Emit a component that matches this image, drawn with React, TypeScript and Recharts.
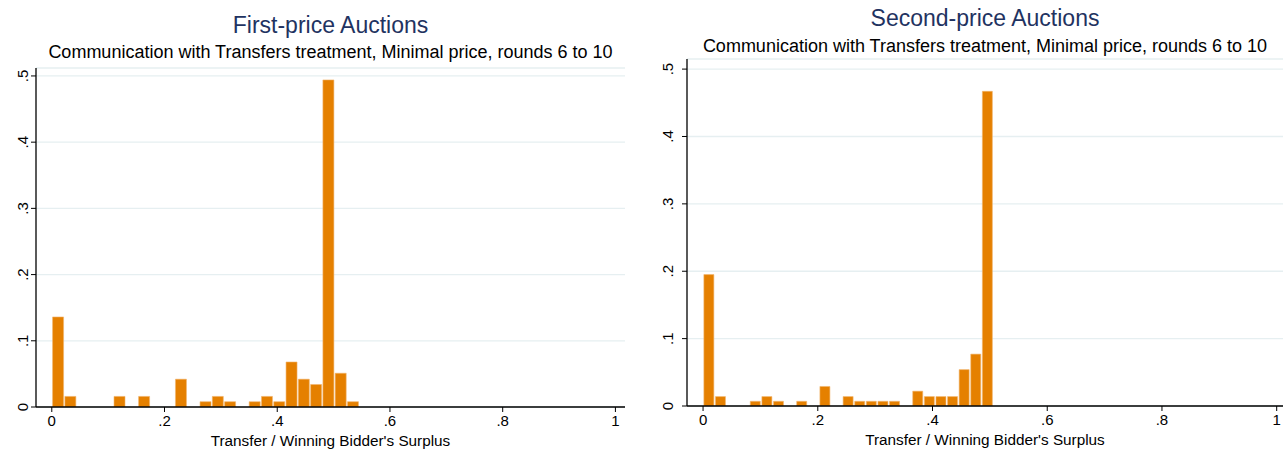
import React from 'react';
import { BarChart, Bar, XAxis, YAxis, CartesianGrid } from 'recharts';

// share of auctions per bin (25 equal bins starting at 0)
const FIRST_PRICE_SHARE = [
  0.136, 0.016, 0, 0, 0, 0.016, 0, 0.016, 0, 0, 0.042, 0, 0.008, 0.016, 0.008, 0, 0.008, 0.016,
  0.008, 0.068, 0.042, 0.034, 0.494, 0.051, 0.008,
];
const SECOND_PRICE_SHARE = [
  0.195, 0.014, 0, 0, 0.007, 0.014, 0.007, 0, 0.007, 0, 0.029, 0, 0.014, 0.007, 0.007, 0.007, 0.007,
  0, 0.022, 0.014, 0.014, 0.014, 0.054, 0.077, 0.467,
];
const FIRST_PRICE_BIN_WIDTH = 0.0218;
const SECOND_PRICE_BIN_WIDTH = 0.02023;

const X_TICKS = [0, 0.2, 0.4, 0.6, 0.8, 1];
const Y_TICKS = [0, 0.1, 0.2, 0.3, 0.4, 0.5];

const SUBTITLE = 'Communication with Transfers treatment, Minimal price, rounds 6 to 10';
const X_TITLE = "Transfer / Winning Bidder's Surplus";

const FONT = '"Liberation Sans", Arial, Helvetica, sans-serif';
const BAR_COLOR = '#e58000';
const TITLE_COLOR = '#1f3361';
const GRID_COLOR = '#e6eff1';

// Stata style labels: .2 instead of 0.2
const stataNum = (v: number) => (v === 0 || v === 1 ? String(v) : String(v).replace(/^0/, ''));

const toBins = (shares: number[], width: number) =>
  shares.map((share, i) => ({ x: (i + 0.5) * width, share: share || null }));

const RotatedTick = (props: any) => {
  const { y, payload, baseX } = props;
  return (
    <text
      x={baseX}
      y={y}
      transform={`rotate(-90 ${baseX} ${y})`}
      textAnchor="middle"
      fontSize={15}
      fontFamily={FONT}
      fill="#000"
    >
      {stataNum(payload.value)}
    </text>
  );
};

interface PanelProps {
  left: number;
  title: string;
  titleY: number;
  subtitleY: number;
  shares: number[];
  binWidth: number;
  plotLeft: number;
  plotRight: number;
  plotTop: number;
  plotBottom: number;
  xDomain: [number, number];
  yMax: number;
  labelX: number;
}

const W = 640;
const H = 455;

const Panel: React.FC<PanelProps> = (p) => {
  const data = toBins(p.shares, p.binWidth);
  const center = (p.plotLeft + p.plotRight) / 2 - p.left;
  return (
    <div style={{ position: 'absolute', left: p.left, top: 0, width: W, height: H }}>
      <div
        style={{
          position: 'absolute',
          left: center - 300,
          width: 600,
          top: p.titleY - 13,
          lineHeight: '26px',
          textAlign: 'center',
          fontFamily: FONT,
          fontSize: 23,
          color: TITLE_COLOR,
        }}
      >
        {p.title}
      </div>
      <div
        style={{
          position: 'absolute',
          left: center - 320,
          width: 640,
          top: p.subtitleY - 11,
          lineHeight: '22px',
          textAlign: 'center',
          fontFamily: FONT,
          fontSize: 18,
          color: '#000',
          whiteSpace: 'nowrap',
        }}
      >
        {SUBTITLE}
      </div>
      <BarChart
        width={W}
        height={H}
        data={data}
        barCategoryGap={0.8}
        margin={{
          top: p.plotTop,
          right: W - (p.plotRight - p.left),
          bottom: H - p.plotBottom - 30,
          left: 0,
        }}
      >
        <CartesianGrid vertical={false} stroke={GRID_COLOR} strokeWidth={1.3} />
        <XAxis
          dataKey="x"
          type="number"
          domain={p.xDomain}
          allowDataOverflow
          ticks={X_TICKS}
          tickFormatter={stataNum}
          height={30}
          tickSize={5}
          tickMargin={3}
          axisLine={{ stroke: '#000', strokeWidth: 1.3 }}
          tickLine={{ stroke: '#000' }}
          tick={{ fill: '#000', fontSize: 15, fontFamily: FONT }}
          label={{
            value: X_TITLE,
            position: 'insideBottom',
            offset: -9,
            fill: '#000',
            fontSize: 15.3,
            fontFamily: FONT,
          }}
        />
        <YAxis
          type="number"
          domain={[0, p.yMax]}
          allowDataOverflow
          ticks={Y_TICKS}
          width={p.plotLeft - p.left}
          tickSize={5}
          axisLine={{ stroke: '#000', strokeWidth: 1.3 }}
          tickLine={{ stroke: '#000' }}
          tick={(t: any) => <RotatedTick {...t} baseX={p.labelX - p.left} />}
        />
        <Bar dataKey="share" fill={BAR_COLOR} stroke="#f2b66e" strokeWidth={0.6} isAnimationActive={false} />
      </BarChart>
    </div>
  );
};

export default function App() {
  return (
    <div style={{ position: 'absolute', left: 0, top: 0, width: 1287, height: 455, background: '#fff' }}>
      <Panel
        left={0}
        title="First-price Auctions"
        titleY={25}
        subtitleY={52}
        shares={FIRST_PRICE_SHARE}
        binWidth={FIRST_PRICE_BIN_WIDTH}
        plotLeft={36}
        plotRight={625}
        plotTop={68}
        plotBottom={407}
        xDomain={[-0.028, 1.017]}
        yMax={0.512}
        labelX={28}
      />
      <Panel
        left={647}
        title="Second-price Auctions"
        titleY={18}
        subtitleY={46}
        shares={SECOND_PRICE_SHARE}
        binWidth={SECOND_PRICE_BIN_WIDTH}
        plotLeft={687}
        plotRight={1283}
        plotTop={59}
        plotBottom={406}
        xDomain={[-0.028, 1.011]}
        yMax={0.515}
        labelX={673}
      />
    </div>
  );
}
